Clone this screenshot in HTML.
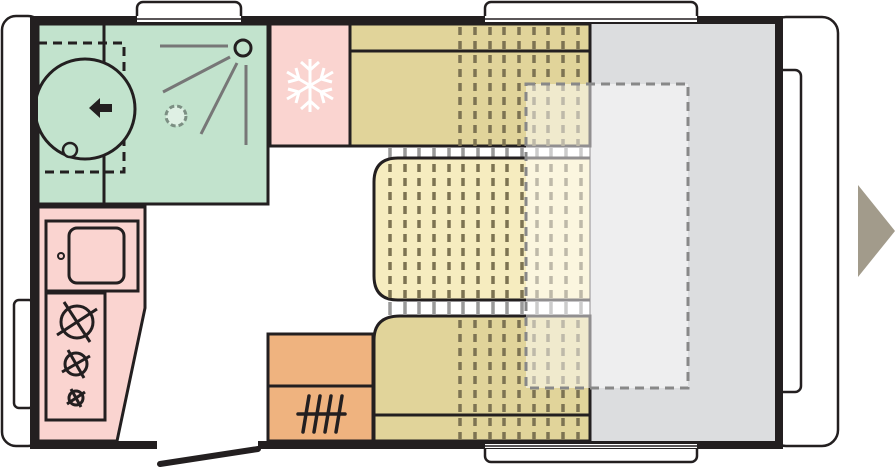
<!DOCTYPE html>
<html><head><meta charset="utf-8"><style>html,body{margin:0;padding:0;background:#fff}svg{display:block}</style></head>
<body>
<svg width="895" height="469" viewBox="0 0 895 469" xmlns="http://www.w3.org/2000/svg">
<!-- bumpers and windows -->
<rect x="2" y="16" width="40" height="430" rx="14" fill="#fff" stroke="#231f20" stroke-width="2.5"/>
<rect x="14" y="300" width="20" height="108" rx="5" fill="#fff" stroke="#231f20" stroke-width="2.5"/>
<rect x="770" y="17" width="68" height="429" rx="16" fill="#fff" stroke="#231f20" stroke-width="2.5"/>
<rect x="770" y="70" width="31" height="322" rx="6" fill="#fff" stroke="#231f20" stroke-width="2.5"/>
<rect x="137" y="2" width="104" height="24" rx="6" fill="#fff" stroke="#231f20" stroke-width="2.5"/>
<rect x="485" y="2" width="212" height="24" rx="6" fill="#fff" stroke="#231f20" stroke-width="2.5"/>
<rect x="485" y="440" width="212" height="22" rx="6" fill="#fff" stroke="#231f20" stroke-width="2.5"/>
<polygon points="858,185 895,231 858,277" fill="#a29b8b"/>
<rect x="38" y="24" width="737" height="417" fill="#fff"/>
<rect x="590" y="24" width="185" height="417" fill="#dcdddf"/>
<!-- seats -->
<rect x="350" y="24" width="240" height="122" fill="#e1d49a" stroke="#231f20" stroke-width="3"/>
<line x1="350" y1="51" x2="590" y2="51" stroke="#231f20" stroke-width="3"/>
<path d="M590,316 H400 Q374,316 374,340 V441 H590 Z" fill="#e1d49a" stroke="#231f20" stroke-width="3"/>
<line x1="374" y1="415" x2="590" y2="415" stroke="#231f20" stroke-width="3"/>
<g stroke="#7d7352" stroke-width="3.5" stroke-dasharray="8,6">
<path d="M460,27V146M475,27V146M490,27V146M504,27V146M519,27V146M534,27V146M548,27V146M563,27V146M578,27V146"/>
<path d="M460,320V441M475,320V441M490,320V441M504,320V441M519,320V441M534,320V441M548,320V441M563,320V441M578,320V441"/>
</g>
<!-- ladders -->
<g stroke="#999" stroke-width="3.5">
<path d="M390,148V158M405,148V158M419,148V158M434,148V158M449,148V158M463,148V158M478,148V158M493,148V158M507,148V158M522,148V158M537,148V158M551,148V158M566,148V158M581,148V158"/>
<path d="M390,302V315M405,302V315M419,302V315M434,302V315M449,302V315M463,302V315M478,302V315M493,302V315M507,302V315M522,302V315M537,302V315M551,302V315M566,302V315M581,302V315"/>
</g>
<!-- table -->
<path d="M590,158 H398 Q374,158 374,182 V276 Q374,300 398,300 H590" fill="#f6ecbf" stroke="#231f20" stroke-width="3"/>
<g stroke="#7d7352" stroke-width="3.5" stroke-dasharray="8,6">
<path d="M390,164V298M405,164V298M419,164V298M434,164V298M449,164V298M463,164V298M478,164V298M493,164V298M507,164V298M522,164V298M537,164V298M551,164V298M566,164V298M581,164V298"/>
</g>
<line x1="590" y1="24" x2="590" y2="441" stroke="#231f20" stroke-width="1"/>
<rect x="526" y="84" width="162" height="304" fill="#fff" fill-opacity="0.5" stroke="#888" stroke-width="3" stroke-dasharray="9,6"/>
<!-- bathroom -->
<rect x="38" y="24" width="230" height="180" fill="#c2e3cd" stroke="#231f20" stroke-width="3"/>
<line x1="104" y1="24" x2="104" y2="204" stroke="#231f20" stroke-width="3"/>
<rect x="38" y="43" width="86" height="129" fill="none" stroke="#231f20" stroke-width="3" stroke-dasharray="9,6"/>
<circle cx="85" cy="109" r="50" fill="#c2e3cd" stroke="#231f20" stroke-width="3"/>
<circle cx="70" cy="150" r="7" fill="#c2e3cd" stroke="#231f20" stroke-width="2.5"/>
<polygon points="89,108 100,98 100,104 112,104 112,112 100,112 100,118" fill="#231f20"/>
<circle cx="243" cy="48" r="8" fill="none" stroke="#231f20" stroke-width="3"/>
<g stroke="#777" stroke-width="3">
<line x1="160" y1="46" x2="228" y2="46"/>
<line x1="163" y1="92" x2="230" y2="57"/>
<line x1="201" y1="134" x2="237" y2="63"/>
<line x1="246" y1="65" x2="246" y2="145"/>
</g>
<circle cx="176" cy="116" r="10" fill="#dff0e4" stroke="#7c8f83" stroke-width="3" stroke-dasharray="5,3"/>
<!-- fridge -->
<rect x="270" y="24" width="80" height="122" fill="#fad4d0" stroke="#231f20" stroke-width="3"/>
<g stroke="#fff" stroke-width="3" fill="none">
<line x1="310" y1="59" x2="310" y2="112"/>
<line x1="287" y1="72" x2="333" y2="99"/>
<line x1="287" y1="99" x2="333" y2="72"/>
<path d="M301,62 L310,70 L319,62 M301,109 L310,101 L319,109 M288,82 L299,79 L296,68 M332,89 L321,92 L324,103 M288,89 L299,92 L296,103 M332,82 L321,79 L324,68"/>
</g>
<!-- kitchen -->
<polygon points="38,207 145,207 145,308 117,441 38,441" fill="#fad4d0" stroke="#231f20" stroke-width="3"/>
<rect x="46" y="221" width="92" height="70" fill="none" stroke="#231f20" stroke-width="3"/>
<rect x="69" y="228" width="55" height="55" rx="8" fill="none" stroke="#231f20" stroke-width="3"/>
<circle cx="61" cy="256" r="3" fill="none" stroke="#231f20" stroke-width="2"/>
<rect x="46" y="293" width="59" height="127" fill="none" stroke="#231f20" stroke-width="3"/>
<g stroke="#231f20" stroke-width="3" fill="none">
<circle cx="77" cy="322" r="16"/><line x1="57" y1="335" x2="97" y2="309"/><line x1="64" y1="302" x2="90" y2="342"/>
<circle cx="76" cy="364" r="11"/><line x1="62" y1="372" x2="90" y2="356"/><line x1="68" y1="350" x2="84" y2="378"/>
<circle cx="76" cy="398" r="7"/><line x1="67" y1="404" x2="85" y2="392"/><line x1="71" y1="389" x2="81" y2="407"/>
</g>
<!-- orange cabinet -->
<rect x="268" y="334" width="105" height="107" fill="#efb37f" stroke="#231f20" stroke-width="3"/>
<line x1="268" y1="386" x2="373" y2="386" stroke="#231f20" stroke-width="3"/>
<g stroke="#231f20" stroke-width="3.5" stroke-linecap="round">
<line x1="298" y1="414" x2="345" y2="414"/>
<line x1="309" y1="396" x2="303" y2="432"/><line x1="320" y1="396" x2="314" y2="432"/>
<line x1="331" y1="396" x2="325" y2="432"/><line x1="342" y1="396" x2="336" y2="432"/>
</g>
<!-- walls -->
<rect x="30" y="16" width="753" height="8" fill="#231f20"/>
<rect x="137" y="16" width="104" height="6" fill="#fff"/><line x1="137" y1="19" x2="241" y2="19" stroke="#231f20" stroke-width="1.5"/>
<rect x="485" y="16" width="212" height="6" fill="#fff"/><line x1="485" y1="19" x2="697" y2="19" stroke="#231f20" stroke-width="1.5"/>
<rect x="30" y="16" width="8" height="432" fill="#231f20"/>
<rect x="775" y="16" width="8" height="432" fill="#231f20"/>
<rect x="30" y="441" width="127" height="8" fill="#231f20"/>
<rect x="258" y="441" width="525" height="8" fill="#231f20"/>
<rect x="485" y="444" width="212" height="4" fill="#fff"/><line x1="485" y1="446" x2="697" y2="446" stroke="#231f20" stroke-width="1.5"/>
<line x1="160" y1="464" x2="258" y2="449" stroke="#231f20" stroke-width="6" stroke-linecap="round"/>
</svg>
</body></html>
